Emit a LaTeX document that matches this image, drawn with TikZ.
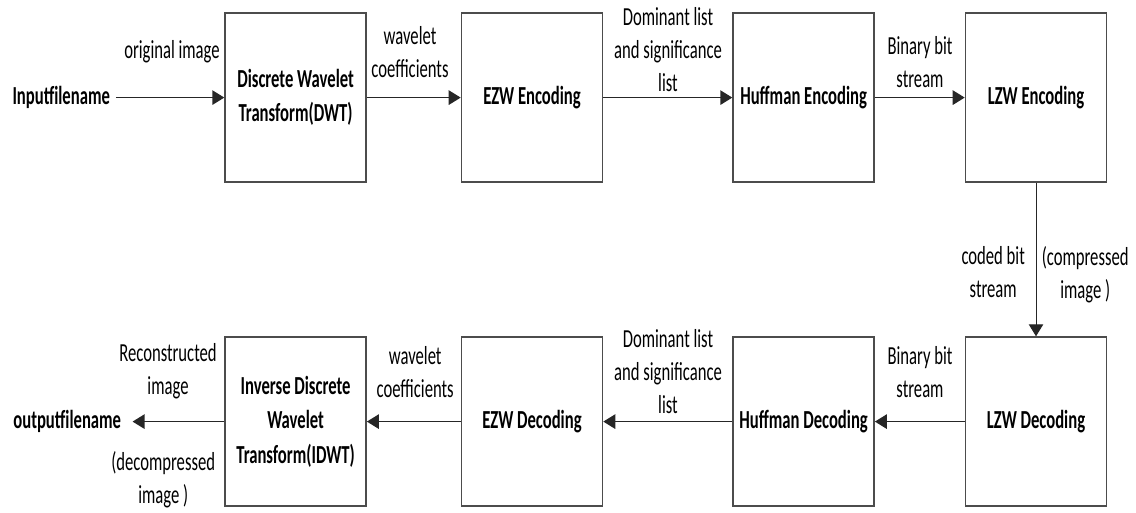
\documentclass[tikz,border=0pt]{standalone}
\usepackage{fontspec}
\setmainfont{Carlito}[FakeStretch=0.64]
\usepackage{tikz}
\usetikzlibrary{arrows.meta,positioning}
\tikzset{
  stage/.style={draw=black!70, line width=1.1pt, align=center, fill=white,
    minimum width=3.525cm, minimum height=4.225cm, inner sep=2pt,
    font=\fontsize{18.5}{24.5}\selectfont\bfseries},
  io/.style={font=\fontsize{18.5}{24.5}\selectfont\bfseries, inner sep=2pt},
  lbl/.style={align=center, inner sep=1pt, font=\fontsize{18.5}{23.5}\selectfont},
  arr/.style={-{Triangle[length=3mm,width=3.6mm]}, line width=1.1pt, draw=black!85},
  thinarr/.style={arr, line width=0.7pt}
}

\begin{document}
\begin{tikzpicture}
  \useasboundingbox (0,0) rectangle (28.4,-12.825);
  \def\yTop{-2.44}
  \def\yBot{-10.54}

  % encoder row
  \node[io] (infile) at (1.53,\yTop) {Inputfilename};
  \node[stage] (dwt) at (7.39,\yTop) {Discrete Wavelet\\Transform(DWT)};
  \node[stage] (ezwenc) at (13.3,\yTop) {EZW Encoding};
  \node[stage] (hufenc) at (20.09,\yTop) {Huffman Encoding};
  \node[stage] (lzwenc) at (25.9,\yTop) {LZW Encoding};

  % decoder row
  \node[io] (outfile) at (1.68,\yBot) {outputfilename};
  \node[stage] (idwt) at (7.39,\yBot) {Inverse Discrete\\Wavelet\\Transform(IDWT)};
  \node[stage] (ezwdec) at (13.3,\yBot) {EZW Decoding};
  \node[stage] (hufdec) at (20.09,\yBot) {Huffman Decoding};
  \node[stage] (lzwdec) at (25.9,\yBot) {LZW Decoding};

  \draw[arr] ([xshift=2pt]infile.east) -- (dwt.west);
  \draw[arr] (dwt) -- (ezwenc);
  \draw[arr] (ezwenc) -- (hufenc);
  \draw[arr] (hufenc) -- (lzwenc);
  \draw[thinarr] (lzwenc) -- (lzwdec);
  \draw[arr] (lzwdec) -- (hufdec);
  \draw[arr] (hufdec) -- (ezwdec);
  \draw[arr] (ezwdec) -- (idwt);
  \draw[arr] (idwt.west) -- ([xshift=6pt]outfile.east);

  % labels on the links
  \node[lbl] (lorig) at (4.3,-1.3) {original image};
  \node[lbl] (lwav1) at (10.25,-1.3) {wavelet\\coefficients};
  \node[lbl] (ldom1) at (16.7,-1.25) {Dominant list\\and significance\\list};
  \node[lbl] (lbin1) at (23.0,-1.55) {Binary bit\\stream};
  \node[lbl] (lcode) at (24.83,-6.8) {coded bit\\stream};
  \node[lbl] (lcomp) at (27.13,-6.88) {(compressed\\image )};
  \node[lbl] (lbin2) at (23.0,-9.3) {Binary bit\\stream};
  \node[lbl] (ldom2) at (16.7,-9.3) {Dominant list\\and significance\\list};
  \node[lbl] (lwav2) at (10.38,-9.3) {wavelet\\coefficients};
  \node[lbl] (lrec) at (4.2,-9.28) {Reconstructed\\image};
  \node[lbl] (ldec) at (4.08,-12.0) {(decompressed\\image )};
\end{tikzpicture}
\end{document}
